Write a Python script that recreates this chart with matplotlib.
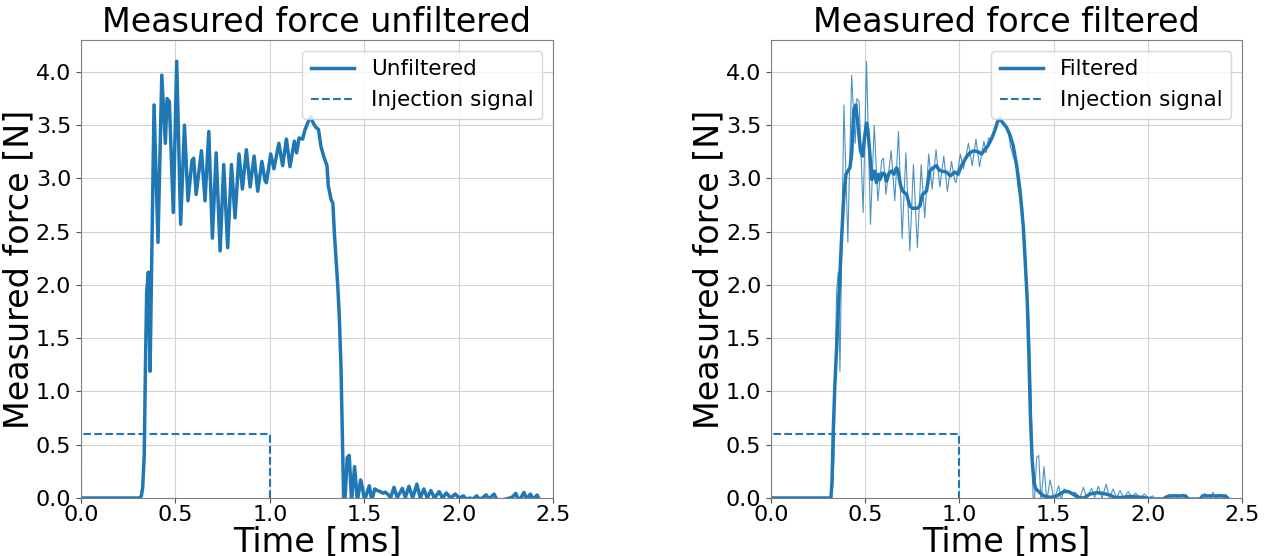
import numpy as np
import matplotlib
matplotlib.use("Agg")
import matplotlib.pyplot as plt

# Raw force measurement (time in ms, force in N)
t_raw = [0.0, 0.31, 0.32, 0.327, 0.335, 0.342, 0.348, 0.357, 0.366, 0.387,
         0.408, 0.428, 0.447, 0.456, 0.468, 0.489, 0.507, 0.528, 0.548, 0.567,
         0.588, 0.597, 0.61, 0.638, 0.657, 0.677, 0.696, 0.716, 0.737, 0.756,
         0.777, 0.797, 0.816, 0.837, 0.855, 0.876, 0.896, 0.917, 0.936, 0.958,
         0.975, 0.982, 1.005, 1.022, 1.048, 1.068, 1.088, 1.107, 1.13, 1.142,
         1.155, 1.174, 1.185, 1.205, 1.217, 1.23, 1.244, 1.258, 1.271, 1.287,
         1.303, 1.31, 1.325, 1.334, 1.342, 1.36, 1.368, 1.377, 1.384, 1.391,
         1.398, 1.41, 1.421, 1.433, 1.449, 1.464, 1.481, 1.49, 1.502, 1.527,
         1.54, 1.556, 1.57, 1.585, 1.6, 1.612, 1.625, 1.64, 1.658, 1.675,
         1.702, 1.718, 1.737, 1.757, 1.779, 1.797, 1.816, 1.834, 1.853, 1.872,
         1.897, 1.915, 1.935, 1.958, 1.982, 2.004, 2.026, 2.04, 2.06, 2.075,
         2.096, 2.11, 2.125, 2.146, 2.16, 2.188, 2.2, 2.22, 2.25, 2.27,
         2.285, 2.303, 2.315, 2.33, 2.346, 2.36, 2.38, 2.395, 2.416, 2.423]
f_raw = [0.0, 0.0, 0.02, 0.1, 0.4, 1.3, 1.93, 2.12, 1.19, 3.69,
         2.40, 3.97, 3.33, 3.75, 3.72, 2.68, 4.10, 2.57, 3.50, 2.79,
         3.17, 3.19, 2.85, 3.26, 2.79, 3.44, 2.44, 3.24, 2.32, 3.13,
         2.35, 3.13, 2.63, 3.23, 2.90, 3.27, 2.92, 3.21, 2.88, 3.16,
         2.98, 2.96, 3.23, 3.09, 3.33, 3.12, 3.37, 3.11, 3.35, 3.24,
         3.38, 3.37, 3.45, 3.54, 3.58, 3.52, 3.48, 3.46, 3.30, 3.20,
         3.12, 2.93, 2.80, 2.77, 2.49, 1.99, 1.71, 1.24, 0.61, 0.0,
         -0.03, 0.38, 0.40, -0.03, 0.295, -0.03, 0.17, 0.10, -0.02, 0.115,
         -0.02, 0.085, 0.07, 0.06, 0.045, 0.055, 0.035, 0.005, 0.10, 0.005,
         0.09, 0.005, 0.11, 0.0, 0.13, 0.0, 0.085, 0.0, 0.07, 0.0,
         0.06, 0.0, 0.047, 0.0, 0.037, 0.0, 0.02, -0.01, 0.0, -0.01,
         0.02, -0.01, 0.0, 0.03, -0.01, 0.037, -0.01, -0.02, -0.01, 0.0,
         0.01, 0.043, -0.01, 0.0, 0.053, -0.01, 0.037, -0.01, 0.028, 0.0]

# Low-pass filtered force
t_filt = [0.0, 0.318, 0.324, 0.33, 0.339, 0.348, 0.362, 0.375, 0.387, 0.398,
          0.419, 0.428, 0.44, 0.45, 0.463, 0.475, 0.486, 0.496, 0.507, 0.514,
          0.525, 0.535, 0.548, 0.56, 0.571, 0.578, 0.592, 0.604, 0.613, 0.627,
          0.64, 0.652, 0.666, 0.675, 0.687, 0.70, 0.72, 0.737, 0.751, 0.776,
          0.79, 0.804, 0.825, 0.843, 0.86, 0.878, 0.892, 0.904, 0.931, 0.952,
          0.975, 0.993, 1.011, 1.037, 1.055, 1.076, 1.10, 1.117, 1.135, 1.152,
          1.17, 1.188, 1.202, 1.215, 1.227, 1.25, 1.268, 1.285, 1.303, 1.321,
          1.339, 1.346, 1.36, 1.368, 1.377, 1.386, 1.395, 1.404, 1.421, 1.447,
          1.482, 1.518, 1.553, 1.579, 1.605, 1.632, 1.66, 1.693, 1.728, 1.763,
          1.798, 1.825, 1.868, 1.904, 1.956, 1.991, 2.02, 2.08, 2.096, 2.114,
          2.2, 2.215, 2.28, 2.29, 2.41, 2.423]
f_filt = [0.0, 0.0, 0.15, 0.6, 1.06, 1.39, 1.95, 2.45, 2.85, 3.04,
          3.10, 3.225, 3.65, 3.69, 3.475, 3.26, 3.21, 3.38, 3.52, 3.46,
          3.225, 2.99, 3.07, 2.96, 3.04, 2.99, 3.05, 3.04, 2.975, 3.05,
          3.07, 3.04, 3.10, 3.07, 2.94, 2.88, 2.85, 2.74, 2.72, 2.72,
          2.74, 2.85, 2.88, 3.07, 3.10, 3.12, 3.08, 3.07, 3.06, 3.025,
          3.06, 3.04, 3.12, 3.20, 3.24, 3.26, 3.25, 3.23, 3.27, 3.31,
          3.37, 3.45, 3.53, 3.56, 3.53, 3.48, 3.41, 3.31, 3.13, 2.90,
          2.55, 2.33, 1.86, 1.39, 0.77, 0.36, 0.16, 0.09, 0.06, 0.02,
          0.006, 0.02, 0.06, 0.06, 0.034, 0.005, 0.0, 0.037, 0.05, 0.043,
          0.028, 0.005, 0.005, 0.015, 0.008, 0.0, -0.01, -0.01, 0.005, 0.02,
          0.02, -0.01, -0.01, 0.02, 0.02, 0.0]

# Injection command signal
t_inj = [0.0, 0.0, 1.0, 1.0]
v_inj = [0.0, 0.6, 0.6, 0.0]

x_ticks = [0.0, 0.5, 1.0, 1.5, 2.0, 2.5]
y_ticks = [0.0, 0.5, 1.0, 1.5, 2.0, 2.5, 3.0, 3.5, 4.0]

blue = "#1f77b4"

fig = plt.figure(figsize=(12.71, 5.56), dpi=100)
ax1 = fig.add_axes([0.0637, 0.1043, 0.3714, 0.8238])
ax2 = fig.add_axes([0.6066, 0.1043, 0.3706, 0.8238])


def style(ax, title):
    ax.set_xlim(0, 2.5)
    ax.set_ylim(0, 4.3)
    ax.set_xticks(x_ticks)
    ax.set_yticks(y_ticks)
    ax.tick_params(labelsize=16, color="#555555")
    ax.tick_params(axis="x", pad=1.5)
    ax.grid(True, color="#d3d3d3", linewidth=0.8)
    ax.set_axisbelow(True)
    for sp in ax.spines.values():
        sp.set_color("#808080")
    ax.set_title(title, fontsize=24)
    ax.set_xlabel("Time [ms]", fontsize=24, labelpad=0)
    ax.set_ylabel("Measured force [N]", fontsize=24, labelpad=0)
    ax.legend(loc="upper right", fontsize=15.5)


ax1.plot(t_raw, f_raw, color=blue, linewidth=2.5, label="Unfiltered")
ax1.plot(t_inj, v_inj, color=blue, linewidth=1.5, linestyle="--",
         label="Injection signal")
style(ax1, "Measured force unfiltered")

ax2.plot(t_raw, f_raw, color=blue, linewidth=0.8, alpha=0.8)
ax2.plot(t_filt, f_filt, color=blue, linewidth=2.5, label="Filtered")
ax2.plot(t_inj, v_inj, color=blue, linewidth=1.5, linestyle="--",
         label="Injection signal")
style(ax2, "Measured force filtered")

fig.savefig("out.png", dpi=100)
